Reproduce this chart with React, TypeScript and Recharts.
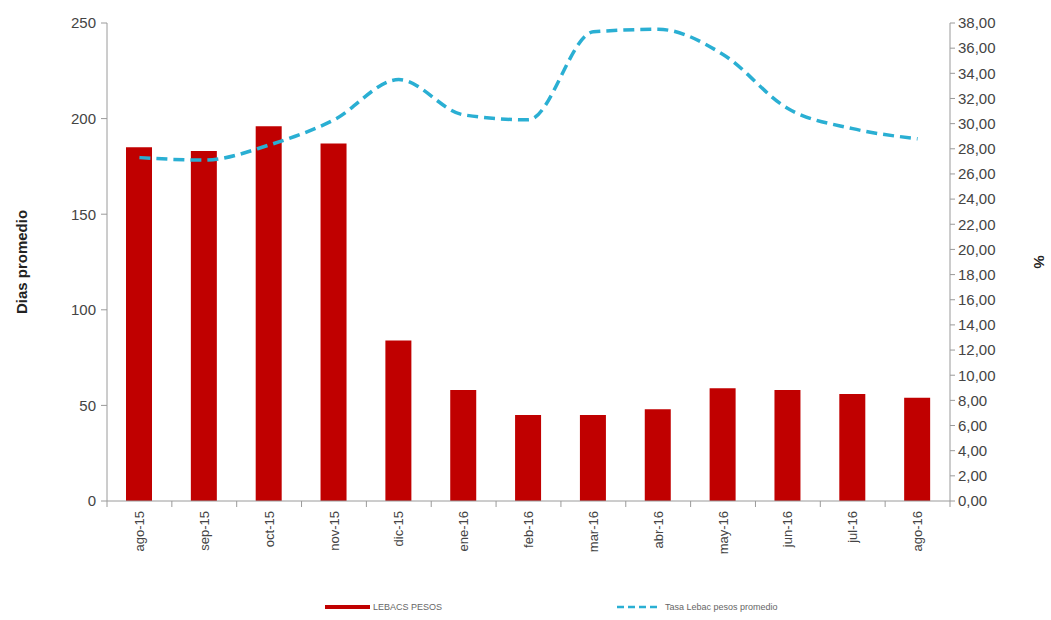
import React from 'react';
import { ComposedChart, Bar, Line, XAxis, YAxis } from 'recharts';

const categories = ['ago-15','sep-15','oct-15','nov-15','dic-15','ene-16','feb-16','mar-16','abr-16','may-16','jun-16','jul-16','ago-16'];
const diasPromedio = [185, 183, 196, 187, 84, 58, 45, 45, 48, 59, 58, 56, 54];
const tasaPromedio = [27.3, 27.1, 28.3, 30.3, 33.5, 30.7, 30.3, 37.3, 37.5, 35.5, 31.2, 29.6, 28.8];
const leftTicks = [0, 50, 100, 150, 200, 250];
const rightTicks = Array.from({ length: 20 }, (_, i) => i * 2);

const data = categories.map((c, i) => ({ cat: c, dias: diasPromedio[i], tasa: tasaPromedio[i] }));

const BAR_COLOR = '#C00000';
const LINE_COLOR = '#2AAFD3';
const AXIS_COLOR = '#9a9a9a';
const FONT = 'Liberation Sans, Arial, sans-serif';

const XTick = (props: any) => {
  const { x, y, payload, index } = props;
  const half = 843 / 13 / 2;
  return (
    <g>
      <line x1={x + half} y1={y} x2={x + half} y2={y + 6} stroke={AXIS_COLOR} />
      {index === 0 && <line x1={x - half} y1={y} x2={x - half} y2={y + 6} stroke={AXIS_COLOR} />}
      <text
        x={x}
        y={y + 10}
        transform={`rotate(-90, ${x}, ${y + 10})`}
        textAnchor="end"
        dy="0.35em"
        fontSize={13}
        fill="#444"
        fontFamily={FONT}
      >
        {payload.value}
      </text>
    </g>
  );
};

export default function App() {
  return (
    <div style={{ position: 'absolute', left: 0, top: 0, width: 1051, height: 620, background: '#fff' }}>
      <ComposedChart
        width={1051}
        height={620}
        data={data}
        margin={{ top: 23, right: 0, bottom: 39, left: 0 }}
        barCategoryGap="30%"
      >
        <XAxis
          dataKey="cat"
          stroke={AXIS_COLOR}
          tickLine={false}
          tickSize={0}
          tickMargin={0}
          tick={<XTick />}
          interval={0}
          height={80}
        />
        <YAxis
          yAxisId="left"
          orientation="left"
          domain={[0, 250]}
          ticks={leftTicks}
          width={107}
          stroke={AXIS_COLOR}
          tickSize={6}
          tickMargin={5}
          tick={{ fontSize: 15, fill: '#444', fontFamily: FONT }}
          label={{
            value: 'Dias promedio',
            angle: -90,
            position: 'insideLeft',
            offset: 22,
            style: { fontSize: 15, fontWeight: 'bold', fill: '#222', fontFamily: FONT, textAnchor: 'middle' },
          }}
        />
        <YAxis
          yAxisId="right"
          orientation="right"
          domain={[0, 38]}
          ticks={rightTicks}
          width={101}
          stroke={AXIS_COLOR}
          tickSize={5}
          tickMargin={3}
          tickFormatter={(v: number) => v.toFixed(2).replace('.', ',')}
          tick={{ fontSize: 15, fill: '#444', fontFamily: FONT }}
          label={{
            value: '%',
            angle: 90,
            position: 'insideRight',
            offset: 12,
            style: { fontSize: 15, fontWeight: 'bold', fill: '#222', fontFamily: FONT, textAnchor: 'middle' },
          }}
        />
        <Bar yAxisId="left" dataKey="dias" fill={BAR_COLOR} barSize={26} isAnimationActive={false} />
        <Line
          yAxisId="right"
          type="monotone"
          dataKey="tasa"
          stroke={LINE_COLOR}
          strokeWidth={3.5}
          strokeDasharray="11 6"
          dot={false}
          isAnimationActive={false}
        />
      </ComposedChart>
      <div style={{ position: 'absolute', left: 325, top: 602, fontFamily: FONT, fontSize: 9, color: '#666', display: 'flex', alignItems: 'center', whiteSpace: 'nowrap' }}>
        <svg width={46} height={10}><line x1={0} y1={5} x2={45} y2={5} stroke={BAR_COLOR} strokeWidth={4} /></svg>
        <span style={{ marginLeft: 2 }}>LEBACS PESOS</span>
      </div>
      <div style={{ position: 'absolute', left: 617, top: 602, fontFamily: FONT, fontSize: 9, color: '#666', display: 'flex', alignItems: 'center', whiteSpace: 'nowrap' }}>
        <svg width={46} height={10}><line x1={0} y1={5} x2={44} y2={5} stroke={LINE_COLOR} strokeWidth={2.5} strokeDasharray="7 4" /></svg>
        <span style={{ marginLeft: 2 }}>Tasa Lebac pesos promedio</span>
      </div>
    </div>
  );
}
